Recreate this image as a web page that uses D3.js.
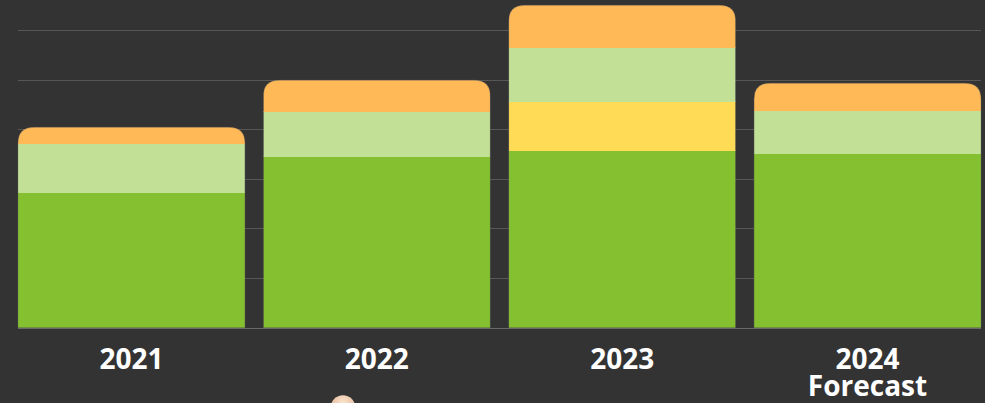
<!DOCTYPE html>
<html>
<head>
<meta charset="utf-8">
<script src="https://cdn.jsdelivr.net/npm/d3@7"></script>
<style>
  html, body { margin: 0; padding: 0; background: #333333; }
  svg { display: block; }
</style>
</head>
<body>
<svg id="chart" width="985" height="403"></svg>
<script>
// ---- data ----
const categories = ["2021", "2022", "2023", "2024"];
const subLabels = ["", "", "", "Forecast"];
// stacking order bottom -> top
const seriesNames = ["base", "third", "second", "top"];
const baseValues = [2.73, 3.47, 3.58, 3.52];
const thirdValues = [0, 0, 1.00, 0];
const secondValues = [1.00, 0.89, 1.07, 0.87];
const topValues = [0.31, 0.63, 0.85, 0.54];
const gridTicks = [0, 1, 2, 3, 4, 5, 6];
const seriesColors = ["#84c02f", "#ffdb56", "#c2e196", "#ffb957"];

const svg = d3.select("#chart");
const W = 985, H = 403;
const left = 18, right = 981, baseY = 327.7, topY = 0.3;

const x = d3.scaleBand().domain(categories).range([left, right]).paddingInner(0.075).paddingOuter(0);
const y = d3.scaleLinear().domain([0, 6.6]).range([baseY, topY]);

svg.append("rect").attr("width", W).attr("height", H).attr("fill", "#333333");

// gridlines
svg.append("g").selectAll("line").data(gridTicks.filter(d => d > 0)).join("line")
  .attr("x1", left).attr("x2", right)
  .attr("y1", d => Math.round(y(d)) + 0.5).attr("y2", d => Math.round(y(d)) + 0.5)
  .attr("stroke", "#575757").attr("stroke-width", 1);

// stack
const rows = categories.map((c, i) => ({
  cat: c, base: baseValues[i], second: secondValues[i], third: thirdValues[i], top: topValues[i]
}));
const stack = d3.stack().keys(seriesNames)(rows);
const totals = rows.map(r => r.base + r.second + r.third + r.top);

const r = 16;
function barPath(i) {
  const x0 = x(categories[i]), w = x.bandwidth();
  const t = y(totals[i]), b = y(0);
  return `M${x0},${b}L${x0},${t + r}Q${x0},${t} ${x0 + r},${t}L${x0 + w - r},${t}Q${x0 + w},${t} ${x0 + w},${t + r}L${x0 + w},${b}Z`;
}
const defs = svg.append("defs");
categories.forEach((c, i) => {
  defs.append("clipPath").attr("id", "clip" + i).append("path").attr("d", barPath(i));
});

const bars = svg.append("g").selectAll("g").data(categories).join("g")
  .attr("clip-path", (d, i) => `url(#clip${i})`);
bars.each(function(c, i) {
  const g = d3.select(this);
  stack.forEach((s, k) => {
    const d = s[i];
    if (d[1] - d[0] <= 0) return;
    const y1 = Math.round(y(d[1])), y0 = Math.round(y(d[0]));
    g.append("rect")
      .attr("x", x(c)).attr("width", x.bandwidth())
      .attr("y", y1).attr("height", y0 - y1 + 1)
      .attr("fill", seriesColors[k]);
  });
});
// subtle outline
svg.append("g").selectAll("path").data(categories).join("path")
  .attr("d", (d, i) => barPath(i))
  .attr("fill", "none").attr("stroke", "#6a6a6a").attr("stroke-opacity", 0.4).attr("stroke-width", 0.8);

// baseline
svg.append("line").attr("x1", left).attr("x2", right)
  .attr("y1", Math.round(y(0)) + 0.5).attr("y2", Math.round(y(0)) + 0.5)
  .attr("stroke", "#6a6a6a").attr("stroke-width", 1.2);

// labels
const lab = svg.append("g").attr("font-family", "'Open Sans', sans-serif").attr("font-weight", 700)
  .attr("font-size", 28).attr("fill", "#ffffff").attr("text-anchor", "middle");
lab.selectAll("text.yr").data(categories).join("text").attr("class", "yr")
  .attr("x", d => x(d) + x.bandwidth() / 2).attr("y", 369).text(d => d);
lab.selectAll("text.sub").data(categories.filter((d, i) => subLabels[i])).join("text").attr("class", "sub")
  .attr("x", d => x(d) + x.bandwidth() / 2).attr("y", 396)
  .text(d => subLabels[categories.indexOf(d)]);

// decorative partial avatar at bottom
const grad = defs.append("radialGradient").attr("id", "skin").attr("cx", "50%").attr("cy", "30%").attr("r", "60%");
grad.append("stop").attr("offset", "0%").attr("stop-color", "#fbe3cc");
grad.append("stop").attr("offset", "100%").attr("stop-color", "#e2b899");
svg.append("circle").attr("cx", 343).attr("cy", 407.5).attr("r", 12.3).attr("fill", "url(#skin)");
</script>
</body>
</html>
